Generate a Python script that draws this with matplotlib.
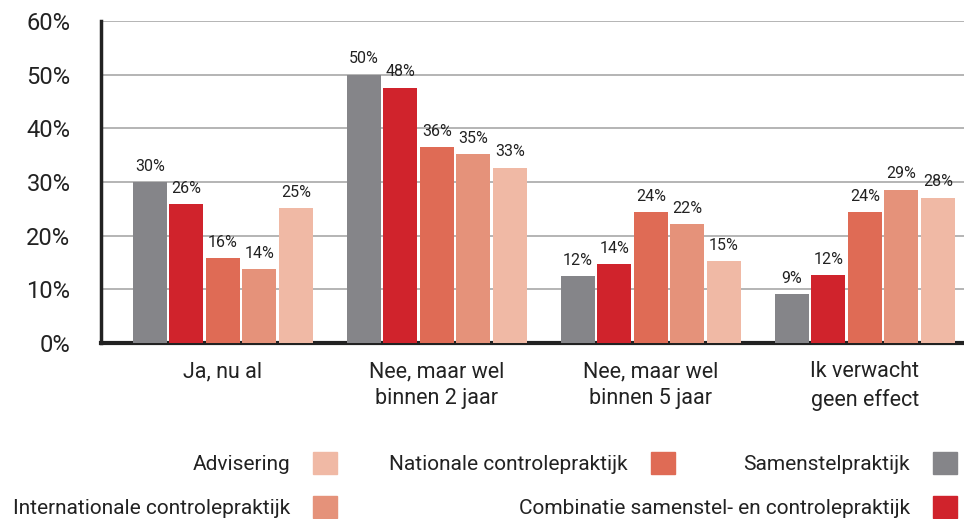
import matplotlib.pyplot as plt
import matplotlib.patches as mpatches
import numpy as np

plt.rcParams['font.family'] = ['Roboto', 'DejaVu Sans']

categories = ["Ja, nu al", "Nee, maar wel\nbinnen 2 jaar", "Nee, maar wel\nbinnen 5 jaar", "Ik verwacht\ngeen effect"]
series = ["Samenstelpraktijk", "Combinatie samenstel- en controlepraktijk",
          "Nationale controlepraktijk", "Internationale controlepraktijk", "Advisering"]
colors = ["#858589", "#d0232c", "#df6b55", "#e5927a", "#f0b9a5"]

# bar heights (per series, per category)
samenstel = [30.0, 50.0, 12.4, 9.1]
combinatie = [25.9, 47.6, 14.7, 12.6]
nationaal = [15.8, 36.5, 24.4, 24.4]
internationaal = [13.8, 35.2, 22.2, 28.6]
advisering = [25.1, 32.7, 15.2, 27.1]

# printed labels
samenstel_lbl = ["30%", "50%", "12%", "9%"]
combinatie_lbl = ["26%", "48%", "14%", "12%"]
nationaal_lbl = ["16%", "36%", "24%", "24%"]
internationaal_lbl = ["14%", "35%", "22%", "29%"]
advisering_lbl = ["25%", "33%", "15%", "28%"]

values = [samenstel, combinatie, nationaal, internationaal, advisering]
labels = [samenstel_lbl, combinatie_lbl, nationaal_lbl, internationaal_lbl, advisering_lbl]

W, H = 964, 519
fig = plt.figure(figsize=(W / 100, H / 100), dpi=100)
ax = fig.add_axes([101 / W, 1 - 343 / H, 1 - 101 / W, (343 - 21) / H])

x = np.arange(len(categories))
width = 0.159
step = 0.1706
handles = {}
for i, (vals, lbls) in enumerate(zip(values, labels)):
    bars = ax.bar(x + (i - 2) * step, vals, width, color=colors[i], zorder=3)
    ax.bar_label(bars, labels=lbls, padding=6, fontsize=11.5, color="#222222")
    handles[series[i]] = mpatches.Patch(color=colors[i], label=series[i])

ax.set_xlim(-0.570, 3.463)
ax.set_ylim(0, 60)
ax.set_yticks(range(0, 61, 10))
ax.set_yticklabels([f"{v}%" for v in range(0, 61, 10)], fontsize=17, color="#222222")
ax.set_xticks(x)
ax.set_xticklabels(categories, fontsize=15.5, color="#222222", linespacing=1.4)
ax.tick_params(axis="y", length=0, pad=22)
ax.tick_params(axis="x", length=0, pad=13)

ax.yaxis.grid(True, color="#a8a8a8", linewidth=1.2)
ax.set_axisbelow(True)
for s in ["top", "right"]:
    ax.spines[s].set_visible(False)
ax.spines["left"].set_linewidth(2.5)
ax.spines["left"].set_color("#222222")
ax.spines["bottom"].set_linewidth(3)
ax.spines["bottom"].set_color("#222222")

# legend: one entry each, text left of the square
legend_pos = {
    "Advisering": (337, 463),
    "Nationale controlepraktijk": (675, 463),
    "Samenstelpraktijk": (957, 463),
    "Internationale controlepraktijk": (337, 507),
    "Combinatie samenstel- en controlepraktijk": (957, 507),
}
fs = 15
px_fs = fs * 100 / 72
for name, (px, py) in legend_pos.items():
    fig.legend(handles=[handles[name]], loc="center right",
               bbox_to_anchor=(px / W, 1 - py / H), frameon=False,
               markerfirst=False, fontsize=fs, borderpad=0, borderaxespad=0,
               handlelength=24 / px_fs, handleheight=27 / px_fs, handletextpad=23 / px_fs,
               labelcolor="#222222")

fig.savefig("out.png", dpi=100)
